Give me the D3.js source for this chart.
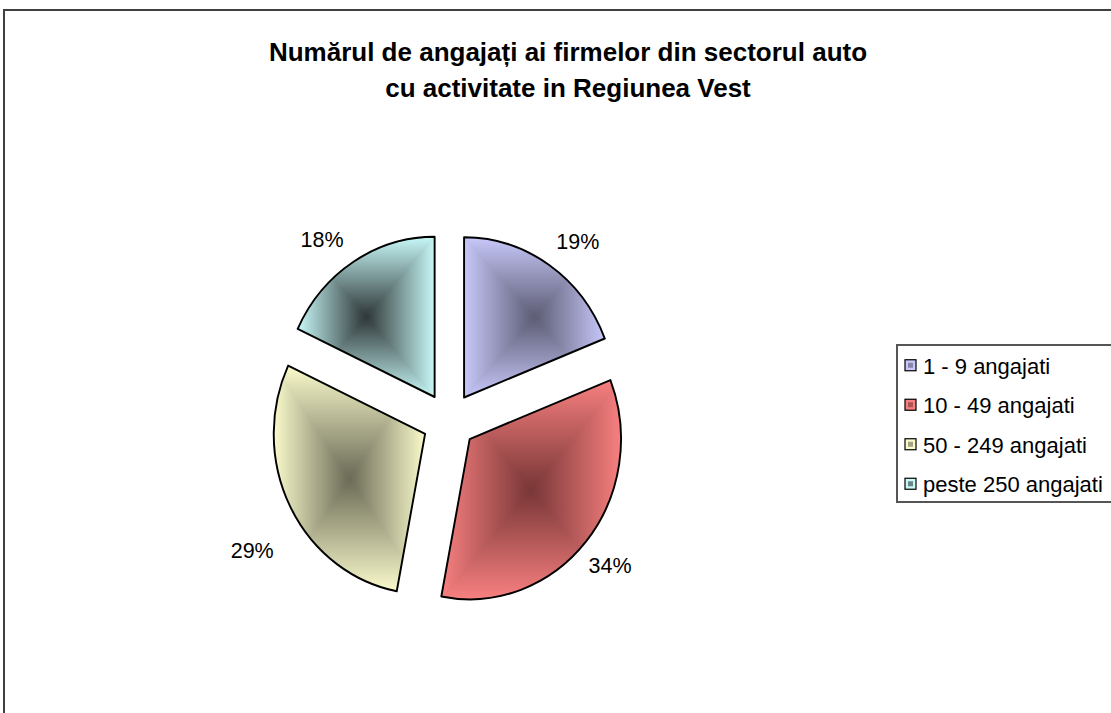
<!DOCTYPE html>
<html>
<head>
<meta charset="utf-8" />
<title>Numarul de angajati - sectorul auto</title>
<script src="https://d3js.org/d3.v7.min.js"></script>
<style>
    html, body {
        margin: 0;
        padding: 0;
        background-color: #fff;
        font-family: 'Liberation Sans', Arial, sans-serif;
    }
</style>
</head>
<body>
<div id="chart"></div>
<script>
    // data
    var categories = ["1 - 9 angajati", "10 - 49 angajati", "50 - 249 angajati", "peste 250 angajati"];
    var values = [19, 34, 29, 18];
    var titleLines = ["Numărul de angajați ai firmelor din sectorul auto", "cu activitate in Regiunea Vest"];

    // light edge / dark centre of each slice
    var edgeColors = ["#c8c8fa", "#f88080", "#fafacc", "#c8f8f8"];
    var centerColors = ["#5c5c74", "#783636", "#6a6a56", "#2e3636"];
    // small nudges so labels sit where Excel put them
    var labelNudge = [[4, 4], [-10, 3], [1, 28], [-8, 6]];

    var width = 1111, height = 713;
    var cx = 449, cy = 421, radius = 158, explode = 28;
    var sx = 0.958, sy = 1.014; // the original is slightly stretched vertically

    var svg = d3.select("#chart").append("svg")
        .attr("width", width)
        .attr("height", height);
    var defs = svg.append("defs");

    // chart frame
    svg.append("path")
        .attr("d", "M4," + height + "V10H" + width)
        .attr("fill", "none")
        .attr("stroke", "#404040")
        .attr("stroke-width", 2);

    // title
    svg.append("g").selectAll("text")
        .data(titleLines)
        .join("text")
        .attr("x", 568)
        .attr("y", function(d, i) { return 61 + i * 36; })
        .attr("text-anchor", "middle")
        .attr("font-size", 26)
        .attr("font-weight", "bold")
        .text(function(d) { return d; });

    var pie = d3.pie().sort(null).value(function(d) { return d; });
    var arcs = pie(values);
    var arc = d3.arc().innerRadius(0).outerRadius(radius);
    var total = d3.sum(values);

    var slices = svg.append("g")
        .attr("transform", "translate(" + cx + "," + cy + ") scale(" + sx + "," + sy + ")");

    arcs.forEach(function(a, i) {
        var mid = (a.startAngle + a.endAngle) / 2;
        var ox = Math.sin(mid) * explode, oy = -Math.cos(mid) * explode;
        var g = slices.append("g").attr("transform", "translate(" + ox + "," + oy + ")");

        var clipId = "clip" + i;
        defs.append("clipPath").attr("id", clipId)
            .append("path").attr("d", arc(a));

        // bounding box of the slice for the "from centre" gradient
        var tmp = g.append("path").attr("d", arc(a));
        var bb = tmp.node().getBBox();
        tmp.remove();
        var x0 = bb.x, y0 = bb.y, x1 = bb.x + bb.width, y1 = bb.y + bb.height;
        var mx = (x0 + x1) / 2, my = (y0 + y1) / 2;

        var fill = g.append("g").attr("clip-path", "url(#" + clipId + ")");
        fill.append("rect")
            .attr("x", x0).attr("y", y0).attr("width", bb.width).attr("height", bb.height)
            .attr("fill", d3.interpolateRgb(edgeColors[i], centerColors[i])(0.5));

        // four triangles, each with a linear gradient from edge to centre
        var sides = [
            { pts: [[x0, y0], [x1, y0], [mx, my]], from: [mx, y0] },
            { pts: [[x1, y0], [x1, y1], [mx, my]], from: [x1, my] },
            { pts: [[x1, y1], [x0, y1], [mx, my]], from: [mx, y1] },
            { pts: [[x0, y1], [x0, y0], [mx, my]], from: [x0, my] }
        ];
        sides.forEach(function(s, k) {
            var gid = "grad" + i + "_" + k;
            var lg = defs.append("linearGradient").attr("id", gid)
                .attr("gradientUnits", "userSpaceOnUse")
                .attr("x1", s.from[0]).attr("y1", s.from[1])
                .attr("x2", mx).attr("y2", my);
            lg.append("stop").attr("offset", 0).attr("stop-color", edgeColors[i]);
            lg.append("stop").attr("offset", 1).attr("stop-color", centerColors[i]);
            fill.append("path")
                .attr("d", "M" + s.pts.map(function(p) { return p.join(","); }).join("L") + "Z")
                .attr("fill", "url(#" + gid + ")")
                .attr("stroke", "url(#" + gid + ")")
                .attr("stroke-width", 0.6);
        });

        g.append("path")
            .attr("d", arc(a))
            .attr("fill", "none")
            .attr("stroke", "#000")
            .attr("stroke-width", 2)
            .attr("stroke-linejoin", "round");
    });

    // percentage labels
    var labelArc = d3.arc().innerRadius(222).outerRadius(222);
    svg.append("g")
        .attr("transform", "translate(" + cx + "," + cy + ")")
        .selectAll("text")
        .data(arcs)
        .join("text")
        .attr("transform", function(d, i) {
            var c = labelArc.centroid(d);
            return "translate(" + (c[0] + labelNudge[i][0]) + "," + (c[1] + labelNudge[i][1]) + ")";
        })
        .attr("text-anchor", "middle")
        .attr("dy", "0.36em")
        .attr("font-size", 21.5)
        .text(function(d) { return Math.round(d.value / total * 100) + "%"; });

    // legend
    var legend = svg.append("g");
    legend.append("rect")
        .attr("x", 897).attr("y", 345)
        .attr("width", 230).attr("height", 157)
        .attr("fill", "#fff")
        .attr("stroke", "#555")
        .attr("stroke-width", 2);

    var y = d3.scaleBand().domain(categories).range([346, 504]);
    var items = legend.selectAll("g.item")
        .data(categories)
        .join("g")
        .attr("class", "item")
        .attr("transform", function(d) { return "translate(0," + (y(d) + y.bandwidth() / 2) + ")"; });

    items.append("rect")
        .attr("x", 905).attr("y", -6)
        .attr("width", 11).attr("height", 11)
        .attr("fill", function(d, i) { return edgeColors[i]; })
        .attr("stroke", "#000")
        .attr("stroke-width", 1.2);
    items.append("rect")
        .attr("x", 908).attr("y", -3)
        .attr("width", 5).attr("height", 5)
        .attr("fill", function(d, i) { return d3.interpolateRgb(edgeColors[i], centerColors[i])(0.6); });
    items.append("text")
        .attr("x", 923)
        .attr("dy", "0.36em")
        .attr("font-size", 22)
        .text(function(d) { return d; });
</script>
</body>
</html>
